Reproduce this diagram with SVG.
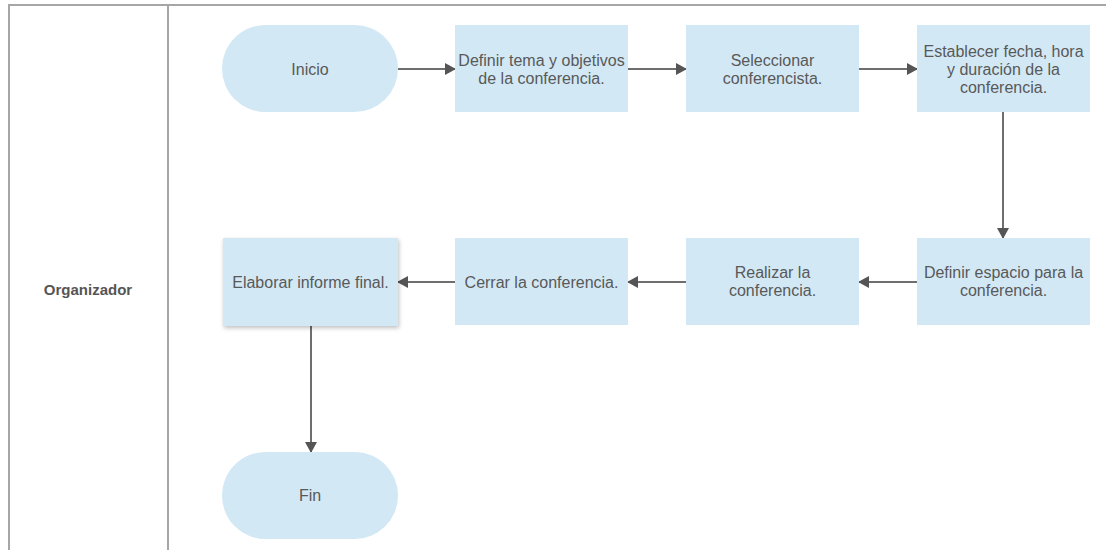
<svg xmlns="http://www.w3.org/2000/svg" width="1106" height="550" viewBox="0 0 1106 550">
  <style>
    .lane { stroke: #a6a6a6; stroke-width: 2; fill: none; }
    .box { fill: #d2e8f5; }
    .label { font-family: "Liberation Sans", Arial, sans-serif; font-size: 16px; fill: #595959; text-anchor: middle; }
    .lanelabel { font-family: "Liberation Sans", Arial, sans-serif; font-size: 15px; font-weight: bold; fill: #555555; text-anchor: middle; }
    .edge { stroke: #6e6e6e; stroke-width: 2; fill: none; marker-end: url(#arrow); }
  </style>
  <defs>
    <marker id="arrow" markerUnits="userSpaceOnUse" markerWidth="11" markerHeight="12" refX="10" refY="6" orient="auto">
      <path d="M0,0 L11,6 L0,12 z" fill="#555555"/>
    </marker>
    <filter id="shadow" x="-10%" y="-10%" width="125%" height="130%">
      <feDropShadow dx="1" dy="2" stdDeviation="2" flood-color="#000000" flood-opacity="0.25"/>
    </filter>
  </defs>

  <rect width="1106" height="550" fill="#ffffff"/>

  <!-- swimlane frame -->
  <g id="lane-organizador">
    <path class="lane" d="M9,550 V5 H1106"/>
    <line class="lane" x1="168" y1="5" x2="168" y2="550"/>
    <text class="lanelabel" x="88" y="295">Organizador</text>
  </g>

  <!-- connectors -->
  <g id="connectors">
    <line class="edge" x1="398" y1="69" x2="455" y2="69"/>
    <line class="edge" x1="628" y1="69" x2="686" y2="69"/>
    <line class="edge" x1="859" y1="69" x2="917" y2="69"/>
    <line class="edge" x1="1003" y1="112" x2="1003" y2="238"/>
    <line class="edge" x1="917" y1="282" x2="859" y2="282"/>
    <line class="edge" x1="686" y1="282" x2="628" y2="282"/>
    <line class="edge" x1="455" y1="282" x2="398" y2="282"/>
    <line class="edge" x1="311" y1="326" x2="311" y2="452"/>
  </g>

  <g id="inicio">
    <rect class="box" x="222" y="25" width="176" height="87" rx="43.5" ry="43.5"/>
    <text class="label" x="310" y="74.5">Inicio</text>
  </g>

  <g id="definir-tema">
    <rect class="box" x="455" y="25" width="173" height="87"/>
    <text class="label" x="541.5" y="65.5">Definir tema y objetivos</text>
    <text class="label" x="541.5" y="83.5">de la conferencia.</text>
  </g>

  <g id="seleccionar">
    <rect class="box" x="686" y="25" width="173" height="87"/>
    <text class="label" x="772.5" y="65.5">Seleccionar</text>
    <text class="label" x="772.5" y="83.5">conferencista.</text>
  </g>

  <g id="establecer-fecha">
    <rect class="box" x="917" y="25" width="173" height="87"/>
    <text class="label" x="1003.5" y="56.5">Establecer fecha, hora</text>
    <text class="label" x="1003.5" y="74.5">y duración de la</text>
    <text class="label" x="1003.5" y="92.5">conferencia.</text>
  </g>

  <g id="definir-espacio">
    <rect class="box" x="917" y="238" width="173" height="87"/>
    <text class="label" x="1003.5" y="277.5">Definir espacio para la</text>
    <text class="label" x="1003.5" y="295.5">conferencia.</text>
  </g>

  <g id="realizar">
    <rect class="box" x="686" y="238" width="173" height="87"/>
    <text class="label" x="772.5" y="277.5">Realizar la</text>
    <text class="label" x="772.5" y="295.5">conferencia.</text>
  </g>

  <g id="cerrar">
    <rect class="box" x="455" y="238" width="173" height="87"/>
    <text class="label" x="541.5" y="287.5">Cerrar la conferencia.</text>
  </g>

  <g id="elaborar-informe">
    <rect class="box" x="223" y="238" width="175" height="88" filter="url(#shadow)"/>
    <text class="label" x="310.5" y="287.5">Elaborar informe final.</text>
  </g>

  <g id="fin">
    <rect class="box" x="222" y="452" width="176" height="87" rx="43.5" ry="43.5"/>
    <text class="label" x="310" y="501">Fin</text>
  </g>
</svg>
